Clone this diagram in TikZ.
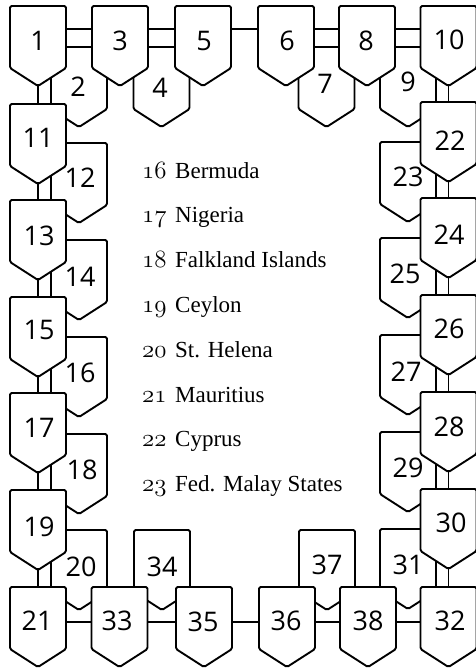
\documentclass[tikz,border=0pt]{standalone}
\usepackage{fontspec}
\newfontfamily\shieldfont{Open Sans}
\newfontfamily\legendfont{Liberation Serif}
\newcommand\osnum[1]{{\fontsize{23.5}{27}\usefont{OML}{cmm}{m}{it}#1}}
\newcommand\mkshield[3]{%
  \coordinate (s#1) at (#2,#3);
  \path[shieldshape] (s#1) ++(-28,0) -- ++(0,62) -- ++(28,18) -- ++(28,-18) -- ++(0,-62) -- cycle;
}
\begin{document}
\begin{tikzpicture}[x=1pt,y=-1pt,
  shieldshape/.style={draw=black, fill=white, line width=1.9pt, line join=round, rounded corners=1.5pt},
  link/.style={draw=black, line width=1.9pt},
  lab/.style={font=\shieldfont\fontsize{27}{30}\selectfont, inner sep=0pt, anchor=center},
  legend/.style={font=\legendfont\fontsize{23}{27}\selectfont, inner sep=0pt, anchor=base west}]
\useasboundingbox (0,0) rectangle (476,670);
% frame line linking the shields
\coordinate (fTL) at (38,29);
\coordinate (fBR) at (448.5,622);
\draw[link] (fTL) rectangle (fBR);
% secondary shields (behind)
\mkshield{2}{79}{47}
\mkshield{4}{161.5}{47}
\mkshield{7}{326.5}{47}
\mkshield{9}{408}{47}
\mkshield{12}{79}{143}
\mkshield{14}{79}{240}
\mkshield{16}{79}{337}
\mkshield{18}{79}{434}
\mkshield{20}{79}{530}
\mkshield{23}{408}{142}
\mkshield{25}{408}{238}
\mkshield{27}{408}{335}
\mkshield{29}{408}{432}
\mkshield{31}{408}{529}
\mkshield{34}{162}{530}
\mkshield{37}{327}{530}
% primary shields
\mkshield{1}{38}{6}
\mkshield{3}{120}{6}
\mkshield{5}{203}{6}
\mkshield{6}{286}{6}
\mkshield{8}{367}{6}
\mkshield{10}{448.5}{6}
\mkshield{11}{38}{104}
\mkshield{13}{38}{200}
\mkshield{15}{38}{297}
\mkshield{17}{38}{393}
\mkshield{19}{38}{490}
\mkshield{21}{38}{587}
\mkshield{22}{448.5}{102}
\mkshield{24}{448.5}{198}
\mkshield{26}{448.5}{295}
\mkshield{28}{448.5}{392}
\mkshield{30}{448.5}{489}
\mkshield{32}{448.5}{587}
\mkshield{33}{119.5}{587}
\mkshield{35}{204}{587}
\mkshield{36}{287}{587}
\mkshield{38}{368}{587}
% labels
\node[lab] (l1) at (38,41) {1};
\node[lab] (l3) at (120,41) {3};
\node[lab] (l5) at (204,41) {5};
\node[lab] (l6) at (287,41) {6};
\node[lab] (l8) at (366,41) {8};
\node[lab] (l10) at (449,40) {10};
\node[lab] (l2) at (78,87) {2};
\node[lab] (l4) at (160,88) {4};
\node[lab] (l7) at (325,84) {7};
\node[lab] (l9) at (408,82) {9};
\node[lab] (l11) at (38,138) {11};
\node[lab] (l13) at (39,236) {13};
\node[lab] (l15) at (39,330) {15};
\node[lab] (l17) at (39,428) {17};
\node[lab] (l19) at (39,527) {19};
\node[lab] (l21) at (37,621) {21};
\node[lab] (l12) at (80,178) {12};
\node[lab] (l14) at (80,277) {14};
\node[lab] (l16) at (80,373) {16};
\node[lab] (l18) at (82,470) {18};
\node[lab] (l20) at (81,567) {20};
\node[lab] (l22) at (450,141) {22};
\node[lab] (l24) at (449,235) {24};
\node[lab] (l26) at (449,329) {26};
\node[lab] (l28) at (449,427) {28};
\node[lab] (l30) at (451,523) {30};
\node[lab] (l32) at (450,621) {32};
\node[lab] (l23) at (408,177) {23};
\node[lab] (l25) at (405,274) {25};
\node[lab] (l27) at (406,372) {27};
\node[lab] (l29) at (408,468) {29};
\node[lab] (l31) at (408,565) {31};
\node[lab] (l33) at (117,621) {33};
\node[lab] (l35) at (203,622) {35};
\node[lab] (l36) at (286,621) {36};
\node[lab] (l38) at (368,621) {38};
\node[lab] (l34) at (162,567) {34};
\node[lab] (l37) at (327,565) {37};
% legend
\node[legend] (k16) at (142,178) {\makebox[33pt][l]{\osnum{16}}Bermuda};
\node[legend] (k17) at (142,222.8) {\makebox[33pt][l]{\osnum{17}}Nigeria};
\node[legend] (k18) at (142,267.6) {\makebox[33pt][l]{\osnum{18}}Falkland Islands};
\node[legend] (k19) at (142,312.4) {\makebox[33pt][l]{\osnum{19}}Ceylon};
\node[legend] (k20) at (142,357.2) {\makebox[33pt][l]{\osnum{20}}St. Helena};
\node[legend] (k21) at (142,402) {\makebox[33pt][l]{\osnum{21}}Mauritius};
\node[legend] (k22) at (142,446.8) {\makebox[33pt][l]{\osnum{22}}Cyprus};
\node[legend] (k23) at (142,491.6) {\makebox[33pt][l]{\osnum{23}}Fed. Malay States};
\end{tikzpicture}
\end{document}
